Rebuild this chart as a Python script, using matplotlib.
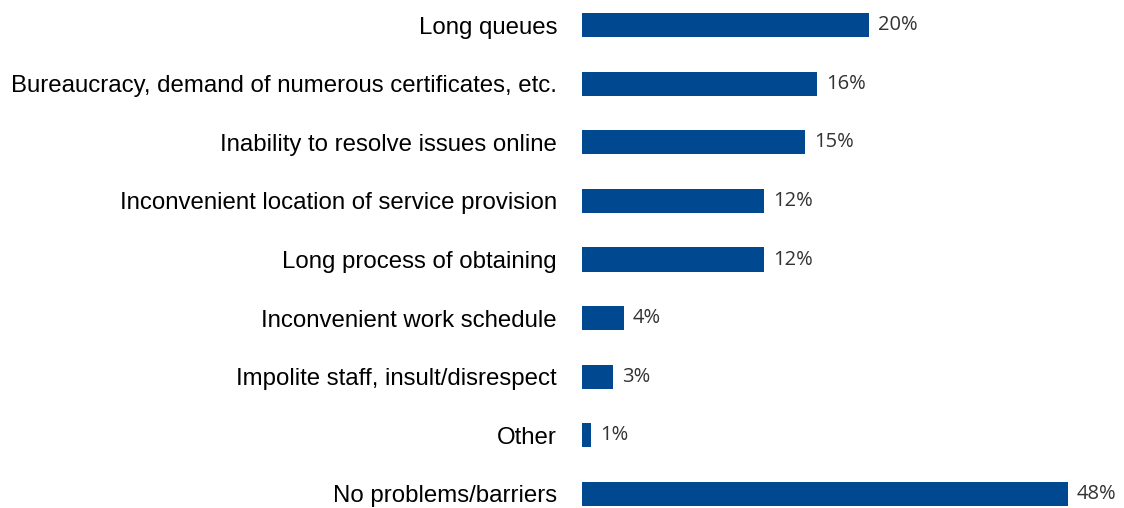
import matplotlib
matplotlib.use('agg')
from matplotlib import pyplot as plt

# categories, top to bottom
categories = [
    'Long queues',
    'Bureaucracy, demand of numerous certificates, etc.',
    'Inability to resolve issues online',
    'Inconvenient location of service provision',
    'Long process of obtaining',
    'Inconvenient work schedule',
    'Impolite staff, insult/disrespect',
    'Other',
    'No problems/barriers',
]
# bar lengths as drawn in the source chart (same scale as the 48% bar)
bar_lengths = [28.3, 23.2, 22.0, 18.0, 18.0, 4.1, 3.1, 0.9, 48.0]
# value labels printed next to the bars
value_labels = ['20%', '16%', '15%', '12%', '12%', '4%', '3%', '1%', '48%']

BAR_COLOR = '#004990'

fig = plt.figure(figsize=(11.24, 5.08), dpi=100)
ax = fig.add_axes([582 / 1124, 0, 1 - 582 / 1124, 1])

ypos = list(range(len(categories)))
bars = ax.barh(ypos, bar_lengths, height=0.41, color=BAR_COLOR)

for b, txt in zip(bars, value_labels):
    ax.annotate(txt, (b.get_width(), b.get_y() + b.get_height() / 2),
                xytext=(6.5, 0), textcoords='offset points',
                ha='left', va='center', fontsize=14.5, color='#333333',
                family='Open Sans')

ax.set_xlim(0, 48 * 542 / 486)
ax.set_ylim(8 + 14 / 58.6, -25 / 58.6)
ax.set_yticks(ypos)
ax.set_yticklabels(categories, family='Liberation Sans', fontsize=17.3,
                   color='black')
ax.tick_params(axis='y', length=0, pad=18)
ax.set_xticks([])
for s in ax.spines.values():
    s.set_visible(False)

plt.savefig('out.png', dpi=100)
